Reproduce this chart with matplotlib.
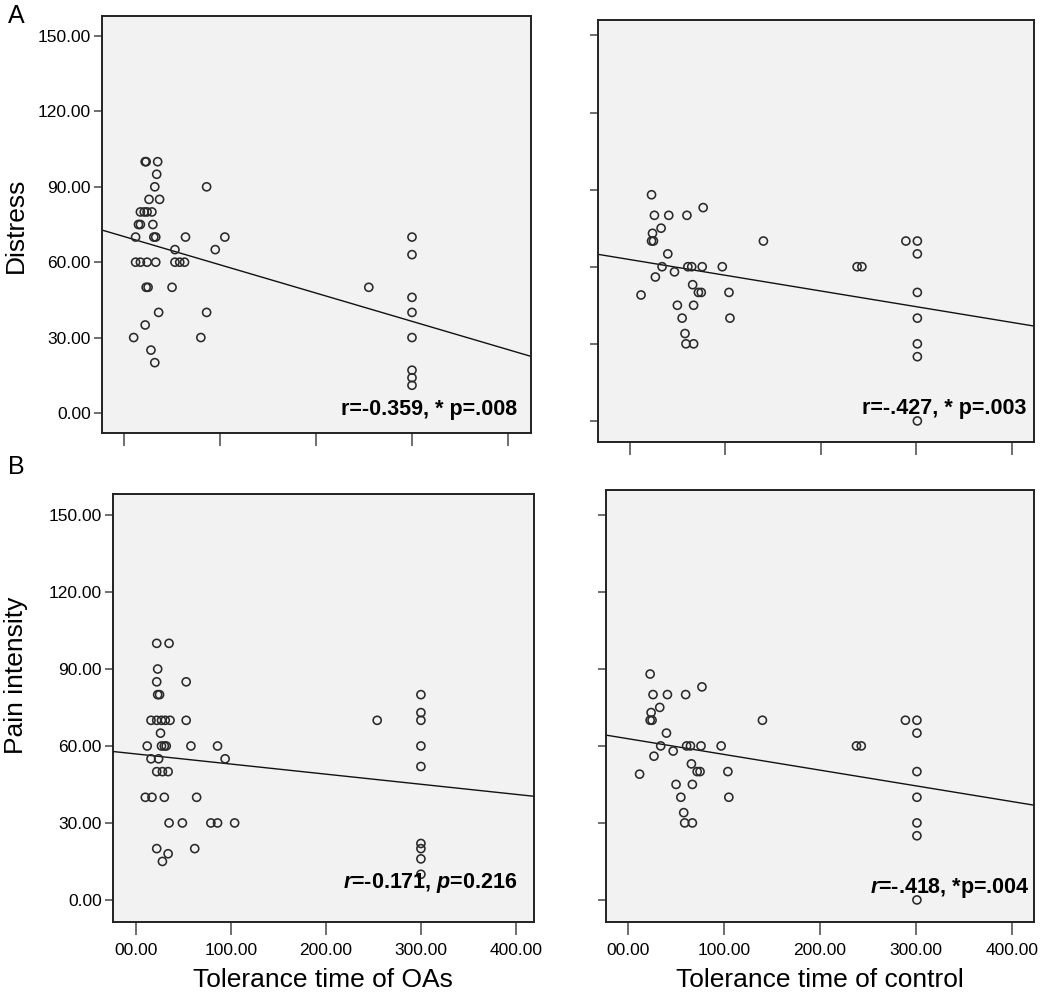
import numpy as np
import matplotlib
matplotlib.use("Agg")
import matplotlib.pyplot as plt
from matplotlib.ticker import FuncFormatter

plt.rcParams['font.family'] = ['Liberation Sans', 'DejaVu Sans']
plt.rcParams['mathtext.fontset'] = 'custom'
plt.rcParams['mathtext.rm'] = 'Liberation Sans'
plt.rcParams['mathtext.it'] = 'Liberation Sans:italic'
plt.rcParams['mathtext.bf'] = 'Liberation Sans:bold'
plt.rcParams['mathtext.bfit'] = 'Liberation Sans:italic:bold'

# A: distress vs tolerance time of OAs
oa_x_d = [22, 23, 35, 34, 32, 86, 26, 37, 17, 21, 24, 29, 15, 17, 30, 12, 31, 33, 64, 105,
          53, 95, 12, 17, 24, 33, 53, 58, 63, 23, 25, 50, 36, 86, 22, 10, 80, 28, 32,
          300, 300, 255, 300, 300, 300, 300, 300, 300]
oa_y_d = [100, 100, 100, 95, 90, 90, 85, 85, 80, 80, 80, 80, 75, 75, 75, 70, 70, 70, 70, 70,
          65, 65, 60, 60, 60, 60, 60, 60, 60, 50, 50, 50, 40, 40, 35, 30, 30, 25, 20,
          70, 63, 50, 46, 40, 30, 17, 14, 11]

# control group (both panels read the same from the figure)
ctl_x = [23, 77, 26, 41, 60, 24, 33, 23, 25, 140, 40, 34, 61, 65, 76, 97, 47, 27, 66, 72,
         75, 104, 12, 50, 67, 55, 105, 58, 59, 67, 289, 301, 301, 238, 243, 301, 301, 301,
         301, 301]
ctl_y_d = [88, 83, 80, 80, 80, 73, 75, 70, 70, 70, 65, 60, 60, 60, 60, 60, 58, 56, 53, 50,
           50, 50, 49, 45, 45, 40, 40, 34, 30, 30, 70, 70, 65, 60, 60, 50, 40, 30, 25, 0]
ctl_y_p = [88, 83, 80, 80, 80, 73, 75, 70, 70, 70, 65, 60, 60, 60, 60, 60, 58, 56, 53, 50,
           50, 50, 49, 45, 45, 40, 40, 34, 30, 30, 70, 70, 65, 60, 60, 50, 40, 30, 25, 0]

# B: pain intensity vs tolerance time of OAs
oa_x_p = [22, 35, 23, 22, 53, 23, 25, 16, 22, 27, 31, 36, 53, 26, 12, 27, 30, 32, 58, 86,
          16, 24, 94, 22, 28, 34, 10, 17, 30, 64, 35, 49, 79, 86, 104, 22, 62, 34, 28,
          300, 300, 254, 300, 300, 300, 300, 300, 300, 300]
oa_y_p = [100, 100, 90, 85, 85, 80, 80, 70, 70, 70, 70, 70, 70, 65, 60, 60, 60, 60, 60, 60,
          55, 55, 55, 50, 50, 50, 40, 40, 40, 40, 30, 30, 30, 30, 30, 20, 20, 18, 15,
          80, 73, 70, 70, 60, 52, 22, 20, 16, 10]

# fitted lines (intercept, slope)
fit_tl = (70.2, -0.1125)
fit_tr = (62.8, -0.0612)
fit_bl = (56.9, -0.0394)
fit_br = (62.8, -0.0612)

xticks = [0, 100, 200, 300, 400]
yticks = [0, 30, 60, 90, 120, 150]

W, H = 1050, 992
fig = plt.figure(figsize=(W / 100, H / 100), dpi=100)


def rect(x0, y0, x1, y1):
    return [x0 / W, 1 - y1 / H, (x1 - x0) / W, (y1 - y0) / H]


def panel(box, xs, ys, fit, xlim, ylim, xlab, ylab):
    ax = fig.add_axes(rect(*box))
    ax.set_facecolor('#f2f2f2')
    ax.scatter(xs, ys, s=34, facecolors='none', edgecolors='#2a2a2a', linewidths=1.15, zorder=3)
    xx = np.array(xlim)
    ax.plot(xx, fit[0] + fit[1] * xx, color='#111111', lw=1.0, zorder=2)
    ax.set_xlim(*xlim)
    ax.set_ylim(*ylim)
    ax.set_xticks(xticks)
    ax.set_yticks(yticks)
    ax.xaxis.set_major_formatter(FuncFormatter(lambda v, p: '%05.2f' % v))
    ax.yaxis.set_major_formatter(FuncFormatter(lambda v, p: '%.2f' % v))
    ax.tick_params(axis='x', direction='out', length=9, width=1.2, color='#555555',
                   labelsize=12.5, pad=6, labelbottom=xlab)
    ax.tick_params(axis='y', direction='out', length=6, width=1.2, color='#555555',
                   labelsize=12.5, pad=2, labelleft=ylab)
    for sp in ax.spines.values():
        sp.set_linewidth(1.4)
        sp.set_color('#222222')
    return ax


panel((102, 16, 531, 433), oa_x_d, oa_y_d, fit_tl, (-23, 424), (-8, 158), False, True)
panel((598, 20, 1034, 442), ctl_x, ctl_y_d, fit_tr, (-33, 423), (-8.2, 156), False, False)
panel((113, 494, 534, 922), oa_x_p, oa_y_p, fit_bl, (-24, 419), (-8.6, 158.2), True, True)
panel((606, 490, 1034, 922), ctl_x, ctl_y_p, fit_br, (-23, 423), (-8.6, 159.7), True, False)


def ftext(x, y, s, **kw):
    fig.text(x / W, 1 - y / H, s, **kw)


# statistics
ftext(517, 415, 'r=-0.359, * p=.008', ha='right', va='baseline', fontsize=15.5, fontweight='bold')
ftext(1026, 414, 'r=-.427, * p=.003', ha='right', va='baseline', fontsize=15.5, fontweight='bold')
ftext(517, 888, r'$\mathbfit{r}$=-0.171, $\mathbfit{p}$=0.216', ha='right', va='baseline',
      fontsize=15.5, fontweight='bold')
ftext(1030, 893, r'$\mathbfit{r}$=-.418, *p=.004', ha='right', va='baseline',
      fontsize=15.5, fontweight='bold')

# panel letters and axis titles
ftext(8, 4, 'A', ha='left', va='top', fontsize=18)
ftext(8, 455, 'B', ha='left', va='top', fontsize=18)
ftext(16, 225, 'Distress', ha='center', va='center', rotation=90, fontsize=19)
ftext(16, 675, 'Pain intensity', ha='center', va='center', rotation=90, fontsize=19)
ftext(323, 980, 'Tolerance time of OAs', ha='center', va='center', fontsize=19)
ftext(820, 980, 'Tolerance time of control', ha='center', va='center', fontsize=19)

fig.savefig('out.png', dpi=100)
